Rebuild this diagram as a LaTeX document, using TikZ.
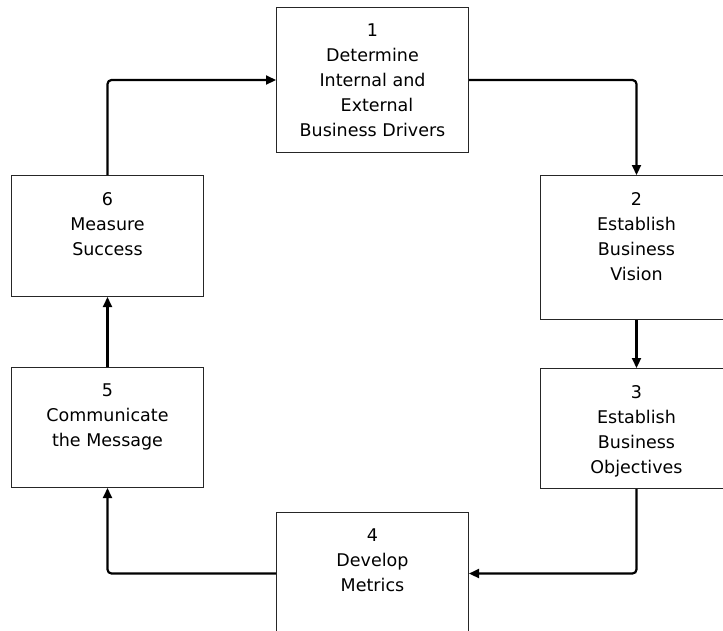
\documentclass[tikz,border=0pt]{standalone}
\usepackage{fontspec}
\setmainfont{DejaVu Sans}
\usetikzlibrary{arrows.meta}
\tikzset{
  box/.style={draw=black!85, line width=1pt, fill=white, rectangle, anchor=north west, inner sep=0pt},
  txt/.style={anchor=north, inner sep=0pt, align=center, font=\fontsize{17.5pt}{25pt}\selectfont},
  conn/.style={draw=black, line width=2.2pt, rounded corners=4pt, -{Triangle[length=10pt,width=9pt]}}
}
\begin{document}
\begin{tikzpicture}[x=1pt,y=-1pt]
\clip (0,0) rectangle (723,630);
\fill[white] (0,0) rectangle (723,630);
% boxes
\node[box, minimum width=192pt, minimum height=145pt] (b1) at (276,7) {};
\node[box, minimum width=192pt, minimum height=144pt] (b2) at (540,175) {};
\node[box, minimum width=192pt, minimum height=120pt] (b3) at (540,368) {};
\node[box, minimum width=192pt, minimum height=122pt] (b4) at (276,512) {};
\node[box, minimum width=192pt, minimum height=120pt] (b5) at (11,367) {};
\node[box, minimum width=192pt, minimum height=121pt] (b6) at (11,175) {};
% texts
\node[txt] (t1) at ([yshift=-17pt]b1.north) {1\\Determine\\Internal and\\\hspace*{9pt}External\\Business Drivers};
\node[txt] (t2) at ([yshift=-17pt]b2.north) {2\\Establish\\Business\\Vision};
\node[txt] (t3) at ([yshift=-17pt]b3.north) {3\\Establish\\Business\\Objectives};
\node[txt] (t4) at ([yshift=-17pt]b4.north) {4\\Develop\\Metrics};
\node[txt] (t5) at ([yshift=-17pt]b5.north) {5\\Communicate\\the Message};
\node[txt] (t6) at ([yshift=-17pt]b6.north) {6\\Measure\\Success};
% connectors
\draw[conn] (b1.east) -| (b2.north);
\draw[conn] (b2.south) -- (b3.north);
\draw[conn] (b3.south) |- (b4.east);
\draw[conn] (b4.west) -| (b5.south);
\draw[conn] (b5.north) -- (b6.south);
\draw[conn] (b6.north) |- (b1.west);
\end{tikzpicture}
\end{document}
